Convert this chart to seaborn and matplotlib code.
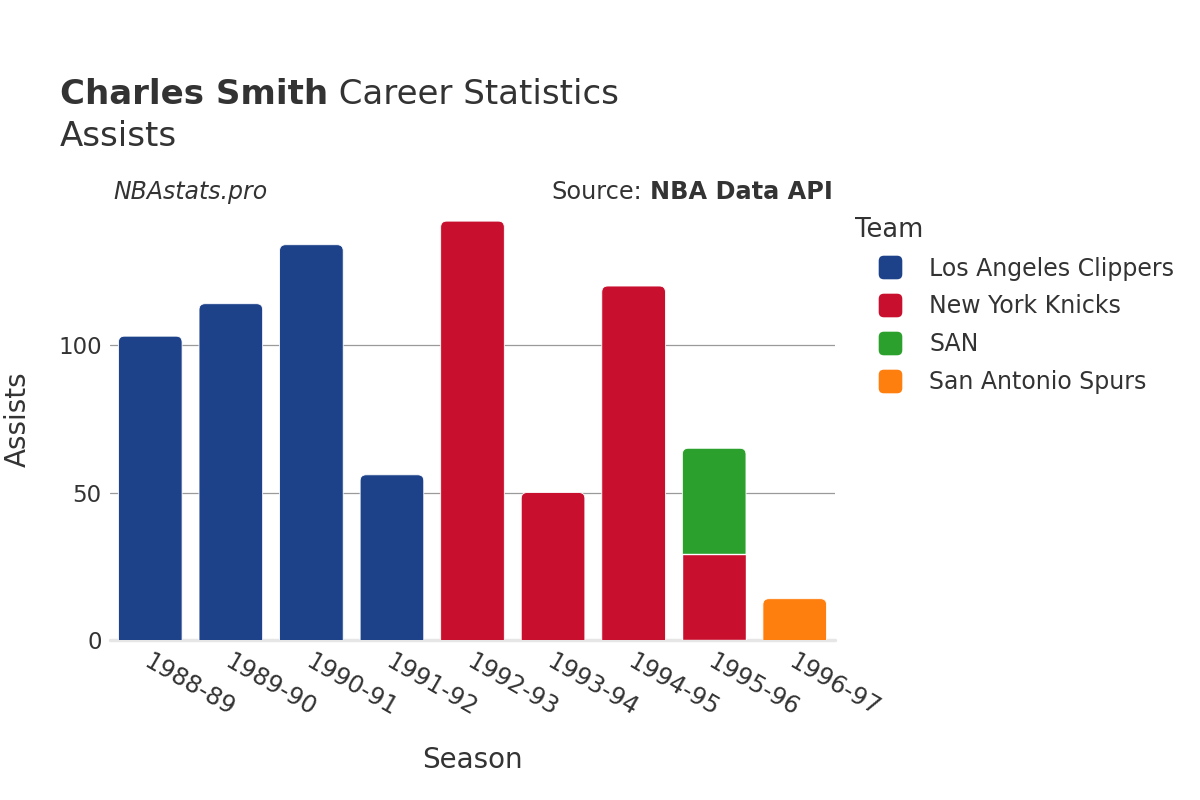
import matplotlib
matplotlib.use("Agg")
import matplotlib.pyplot as plt
from matplotlib.patches import FancyBboxPatch, Rectangle
from matplotlib.lines import Line2D
from matplotlib.transforms import ScaledTranslation
import seaborn as sns
import pandas as pd
import numpy as np

# data
seasons = ["1988-89", "1989-90", "1990-91", "1991-92", "1992-93",
           "1993-94", "1994-95", "1995-96", "1996-97"]
teams = ["Los Angeles Clippers", "New York Knicks", "SAN", "San Antonio Spurs"]
team_colors = ["#1d428a", "#c8102e", "#2ca02c", "#ff7f0e"]

row_season = ["1988-89", "1989-90", "1990-91", "1991-92", "1992-93",
              "1993-94", "1994-95", "1995-96", "1995-96", "1996-97"]
row_team = ["Los Angeles Clippers", "Los Angeles Clippers", "Los Angeles Clippers",
            "Los Angeles Clippers", "New York Knicks", "New York Knicks",
            "New York Knicks", "New York Knicks", "SAN", "San Antonio Spurs"]
row_assists = [103, 114, 134, 56, 142, 50, 120, 29, 36, 14]

df = pd.DataFrame({"Season": row_season, "Team": row_team, "Assists": row_assists})
df["Top"] = df.groupby("Season")["Assists"].cumsum()
df["Bottom"] = df["Top"] - df["Assists"]
totals = df.groupby("Season")["Assists"].sum()

sns.set_style("white")
plt.rcParams["font.family"] = ["DejaVu Sans"]
text_color = "#333333"

fig = plt.figure(figsize=(12, 8), dpi=100)
ax = fig.add_axes([110 / 1200, 160 / 800, 725 / 1200, 441 / 800])

sns.barplot(data=df, x="Season", y="Top", hue="Team", order=seasons,
            hue_order=teams, palette=team_colors, dodge=False, width=0.79,
            saturation=1, errorbar=None, legend=False, ax=ax)

ax.set_xlim(-0.5, 8.5)
ax.set_ylim(0, 149.5)

# swap seaborn's rectangles for plotly-like rounded-top bars (stacked)
p0 = ax.transData.transform((0, 0))
p1 = ax.transData.transform((1, 1))
aspect = (p1[0] - p0[0]) / (p1[1] - p0[1])
radius = 6 / (p1[0] - p0[0])

bars = [p for p in ax.patches if isinstance(p, Rectangle)]
for bar in bars:
    x0, w, h = bar.get_x(), bar.get_width(), bar.get_height()
    color = bar.get_facecolor()
    season = seasons[int(round(x0 + w / 2))]
    match = df[(df["Season"] == season) & np.isclose(df["Top"], h)]
    bar.remove()
    if match.empty:
        continue
    bottom = match["Bottom"].iloc[0]
    if np.isclose(h, totals[season]):
        y0 = bottom - radius * aspect
        patch = FancyBboxPatch((x0, y0), w, h - y0,
                               boxstyle=f"round,pad=0,rounding_size={radius}",
                               mutation_aspect=aspect, facecolor=color,
                               edgecolor="white", linewidth=0.6, zorder=2)
    else:
        patch = Rectangle((x0, bottom), w, h - bottom, facecolor=color,
                          edgecolor="white", linewidth=1.0, zorder=3)
    ax.add_patch(patch)

# axes styling
for s in ax.spines.values():
    s.set_visible(False)
ax.set_yticks([0, 50, 100])
ax.yaxis.grid(True, color="#9a9a9a", linewidth=0.9)
ax.xaxis.grid(False)
ax.set_axisbelow(True)
ax.axhline(0, color="#e6e6e6", linewidth=2.5, zorder=1, clip_on=False)

ax.tick_params(axis="y", length=4, width=0.8, color="#9a9a9a", labelsize=16.5,
               labelcolor=text_color, pad=2)
ax.tick_params(axis="x", length=0, labelsize=17.3, labelcolor=text_color, pad=14)
shift = ScaledTranslation(-4 / 100, 0, fig.dpi_scale_trans)
for lab in ax.get_xticklabels():
    lab.set_rotation(-30)
    lab.set_ha("left")
    lab.set_va("center")
    lab.set_rotation_mode("anchor")
    lab.set_transform(lab.get_transform() + shift)

ax.set_xlabel("Season", fontsize=20, color=text_color, va="center")
ax.xaxis.set_label_coords(0.5, (640 - 760) / 441)
ax.set_ylabel("Assists", fontsize=20, color=text_color, va="center", ha="center")
ax.yaxis.set_label_coords((18 - 110) / 725, 0.5)

# titles and captions
t1 = fig.text(60 / 1200, 1 - 104 / 800, "Charles Smith", fontsize=24.5,
              fontweight="bold", color=text_color, va="baseline")
ax.annotate(" Career Statistics", xy=(1, 0), xycoords=t1, va="bottom", ha="left",
            fontsize=24.5, color=text_color, annotation_clip=False)
fig.text(60 / 1200, 1 - 146 / 800, "Assists", fontsize=24.5, color=text_color,
         va="baseline")

fig.text(113 / 1200, 1 - 199 / 800, "NBAstats.pro", fontsize=17, style="italic",
         color=text_color, va="baseline")
src = fig.text(833 / 1200, 1 - 199 / 800, "NBA Data API", fontsize=17.3,
               fontweight="bold", color=text_color, va="baseline", ha="right")
ax.annotate("Source:", xy=(0, 0), xycoords=src, xytext=(-5.5, 0),
            textcoords="offset points", va="bottom", ha="right", fontsize=17.3,
            color=text_color, annotation_clip=False)

# legend with rounded square markers
marker_box = FancyBboxPatch((-0.5, -0.5), 1, 1, boxstyle="round,pad=0,rounding_size=0.22")
marker_path = marker_box.get_path()
handles = [Line2D([], [], linestyle="none", marker=marker_path, markersize=17,
                  markerfacecolor=c, markeredgecolor=c, markeredgewidth=0)
           for c in team_colors]
leg = fig.legend(handles, teams, title="Team", loc="upper left",
                 bbox_to_anchor=(855 / 1200, 1 - 217 / 800), frameon=False,
                 fontsize=17, title_fontsize=18.5, handlelength=2.95,
                 handletextpad=0.2, labelspacing=0.58, borderpad=0,
                 borderaxespad=0, alignment="left")
for t in leg.get_texts():
    t.set_color(text_color)
leg.get_title().set_color(text_color)

fig.savefig("out.png", dpi=100, facecolor="white")
